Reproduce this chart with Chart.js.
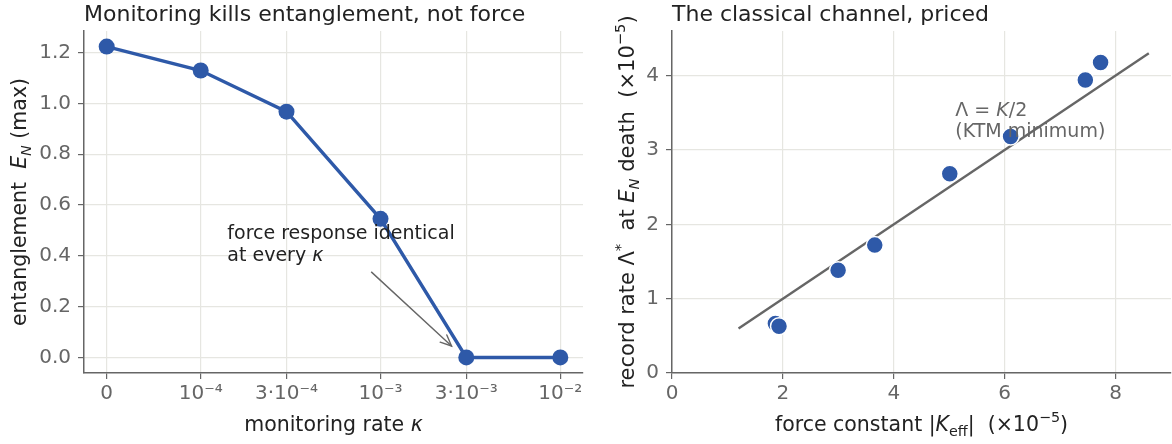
<!DOCTYPE html>
<html><head><meta charset="utf-8">
<script src="https://cdn.jsdelivr.net/npm/chart.js@4.4.1/dist/chart.umd.min.js"></script>
<style>
html,body{margin:0;padding:0;background:#fff;width:1172px;height:444px;overflow:hidden}
#wl{position:absolute;left:0;top:0;width:600px;height:444px}
#wr{position:absolute;left:600px;top:0;width:572px;height:444px}
</style></head><body>
<div id="wl"><canvas id="cl"></canvas></div>
<div id="wr"><canvas id="cr"></canvas></div>
<script>
// ---- data ----
const kappaValues = [0, 1e-4, 3e-4, 1e-3, 3e-3, 1e-2];
const kappaTickLabels = ['0', '10⁻⁴', '3·10⁻⁴', '10⁻³', '3·10⁻³', '10⁻²'];
const entanglementMax = [1.224, 1.13, 0.968, 0.546, 0.0, 0.0];
const kappaZeroProxy = 3e-5; // where kappa = 0 is placed on the log axis
const leftYTicks = [0, 0.2, 0.4, 0.6, 0.8, 1.0, 1.2];

const forceConstant = [1.865, 1.93, 2.996, 3.657, 5.01, 6.107, 7.455, 7.73];
const recordRate = [0.665, 0.629, 1.383, 1.72, 2.68, 3.18, 3.94, 4.175];
const ktmLineK = [1.2, 8.6];
const rightXTicks = [0, 2, 4, 6, 8];
const rightYTicks = [0, 1, 2, 3, 4];

// ---- helpers ----
const FF = '"DejaVu Sans", sans-serif';
const BLUE = '#2e59a8';
const GRID = '#e6e6e1';
const AX = '#666666';
const DARK = '#222222';
function segFont(s, size) {
  const sz = (s.sub || s.sup) ? size * 0.7 : size;
  return (s.italic ? 'italic ' : '') + sz + 'px ' + FF;
}
function richWidth(ctx, segs, size) {
  let w = 0;
  for (const s of segs) { ctx.font = segFont(s, size); w += ctx.measureText(s.t).width; }
  return w;
}
function drawRich(ctx, segs, x, y, size, color, align, rot) {
  ctx.save();
  ctx.translate(x, y);
  if (rot) ctx.rotate(rot);
  const w = richWidth(ctx, segs, size);
  let cx = align === 'center' ? -w / 2 : (align === 'right' ? -w : 0);
  ctx.fillStyle = color; ctx.textBaseline = 'alphabetic'; ctx.textAlign = 'left';
  for (const s of segs) {
    ctx.font = segFont(s, size);
    const dy = s.sub ? size * 0.22 : (s.sup ? -size * 0.42 : 0);
    ctx.fillText(s.t, cx, dy);
    cx += ctx.measureText(s.t).width;
  }
  ctx.restore();
}
function arrow(ctx, x0, y0, x1, y1, color) {
  ctx.save();
  ctx.strokeStyle = color; ctx.lineWidth = 1.4; ctx.lineCap = 'round';
  ctx.beginPath(); ctx.moveTo(x0, y0); ctx.lineTo(x1, y1); ctx.stroke();
  const a = Math.atan2(y1 - y0, x1 - x0), L = 12, h = 0.42;
  ctx.beginPath();
  ctx.moveTo(x1 - L * Math.cos(a - h), y1 - L * Math.sin(a - h));
  ctx.lineTo(x1, y1);
  ctx.lineTo(x1 - L * Math.cos(a + h), y1 - L * Math.sin(a + h));
  ctx.stroke();
  ctx.restore();
}
function axisCommon(ticksArr, labelFn, fitProp, fitVal, pad) {
  return {
    type: 'linear',
    afterBuildTicks: s => { s.ticks = ticksArr.map(v => ({ value: v })); },
    afterFit: s => { s[fitProp] = fitVal; s.paddingLeft = 0; s.paddingRight = 0; s.paddingTop = 0; s.paddingBottom = 0; },
    grid: { color: GRID, lineWidth: 1.2, tickColor: AX, tickLength: 6, tickWidth: 1.2 },
    border: { display: true, color: AX, width: 1.5 },
    ticks: { autoSkip: false, maxRotation: 0, color: AX, padding: pad,
      font: { family: 'DejaVu Sans', size: 20 }, callback: labelFn }
  };
}

// ---- left chart ----
const kappaPos = kappaValues.map(k => Math.log10(k > 0 ? k : kappaZeroProxy));
const xSpan = kappaPos[kappaPos.length - 1] - kappaPos[0];
const leftX = axisCommon(kappaPos, (v, i) => kappaTickLabels[i], 'height', 71, 3);
leftX.min = kappaPos[0] - 0.05 * xSpan; leftX.max = kappaPos[kappaPos.length - 1] + 0.05 * xSpan;
const leftY = axisCommon(leftYTicks, v => v.toFixed(1), 'width', 84, 7);
leftY.min = -0.0612; leftY.max = 1.2855;

const leftText = {
  id: 'leftText',
  afterDraw(chart) {
    const ctx = chart.ctx, xs = chart.scales.x, ys = chart.scales.y, ca = chart.chartArea;
    drawRich(ctx, [{ t: 'Monitoring kills entanglement, not force' }], ca.left, 21, 22, DARK, 'left');
    drawRich(ctx, [{ t: 'monitoring rate ' }, { t: 'κ', italic: true }], (ca.left + ca.right) / 2, 431, 20.5, DARK, 'center');
    drawRich(ctx, [{ t: 'entanglement  ' }, { t: 'E', italic: true }, { t: 'N', italic: true, sub: true }, { t: ' (max)' }],
      26, (ca.top + ca.bottom) / 2, 20.5, DARK, 'center', -Math.PI / 2);
    const tx = xs.getPixelForValue(-3.852);
    drawRich(ctx, [{ t: 'force response identical' }], tx, ys.getPixelForValue(0.465), 19, DARK, 'left');
    drawRich(ctx, [{ t: 'at every ' }, { t: 'κ', italic: true }], tx, ys.getPixelForValue(0.381), 19, DARK, 'left');
    arrow(ctx, xs.getPixelForValue(-3.05), ys.getPixelForValue(0.336),
      xs.getPixelForValue(-2.605), ys.getPixelForValue(0.045), AX);
  }
};

new Chart(document.getElementById('cl'), {
  type: 'line',
  data: { datasets: [{
    data: kappaPos.map((x, i) => ({ x, y: entanglementMax[i] })),
    borderColor: BLUE, backgroundColor: BLUE, borderWidth: 3.4,
    pointRadius: 8, pointHoverRadius: 8, pointBorderWidth: 0, pointBackgroundColor: BLUE,
    tension: 0, clip: false
  }] },
  options: {
    responsive: true, maintainAspectRatio: false, animation: false,
    layout: { autoPadding: false, padding: { top: 31, right: 17, left: 0, bottom: 0 } },
    plugins: { legend: { display: false }, tooltip: { enabled: false } },
    scales: { x: leftX, y: leftY }
  },
  plugins: [leftText]
});

// ---- right chart ----
const rightX = axisCommon(rightXTicks, v => String(v), 'height', 71, 3);
rightX.min = 0; rightX.max = 9;
const rightY = axisCommon(rightYTicks, v => String(v), 'width', 72, 7);
rightY.min = 0; rightY.max = 4.6;

const rightText = {
  id: 'rightText',
  afterDraw(chart) {
    const ctx = chart.ctx, xs = chart.scales.x, ys = chart.scales.y, ca = chart.chartArea;
    drawRich(ctx, [{ t: 'The classical channel, priced' }], ca.left, 21, 22, DARK, 'left');
    drawRich(ctx, [{ t: 'force constant |' }, { t: 'K', italic: true }, { t: 'eff', sub: true }, { t: '|  (×10' }, { t: '−5', sup: true }, { t: ')' }],
      (ca.left + ca.right) / 2, 431, 20.5, DARK, 'center');
    drawRich(ctx, [{ t: 'record rate Λ' }, { t: '*', sup: true }, { t: '  at ' }, { t: 'E', italic: true }, { t: 'N', italic: true, sub: true },
      { t: ' death  (×10' }, { t: '−5', sup: true }, { t: ')' }],
      34, (ca.top + ca.bottom) / 2, 21, DARK, 'center', -Math.PI / 2);
    const tx = xs.getPixelForValue(5.11);
    drawRich(ctx, [{ t: 'Λ = ' }, { t: 'K', italic: true }, { t: '/2' }], tx, ys.getPixelForValue(3.457), 19, AX, 'left');
    drawRich(ctx, [{ t: '(KTM minimum)' }], tx, ys.getPixelForValue(3.17), 19, AX, 'left');
  }
};

new Chart(document.getElementById('cr'), {
  type: 'scatter',
  data: { datasets: [
    {
      type: 'scatter', order: 0,
      data: forceConstant.map((x, i) => ({ x, y: recordRate[i] })),
      backgroundColor: BLUE, borderColor: '#ffffff', borderWidth: 1.5,
      pointRadius: 8.5, pointHoverRadius: 8.5
    },
    {
      type: 'line', order: 1,
      data: ktmLineK.map(k => ({ x: k, y: k / 2 })),
      borderColor: '#666666', borderWidth: 2.4, pointRadius: 0, fill: false
    }
  ] },
  options: {
    responsive: true, maintainAspectRatio: false, animation: false,
    layout: { autoPadding: false, padding: { top: 31, right: 1, left: 0, bottom: 0 } },
    plugins: { legend: { display: false }, tooltip: { enabled: false } },
    scales: { x: rightX, y: rightY }
  },
  plugins: [rightText]
});
</script>
</body></html>
